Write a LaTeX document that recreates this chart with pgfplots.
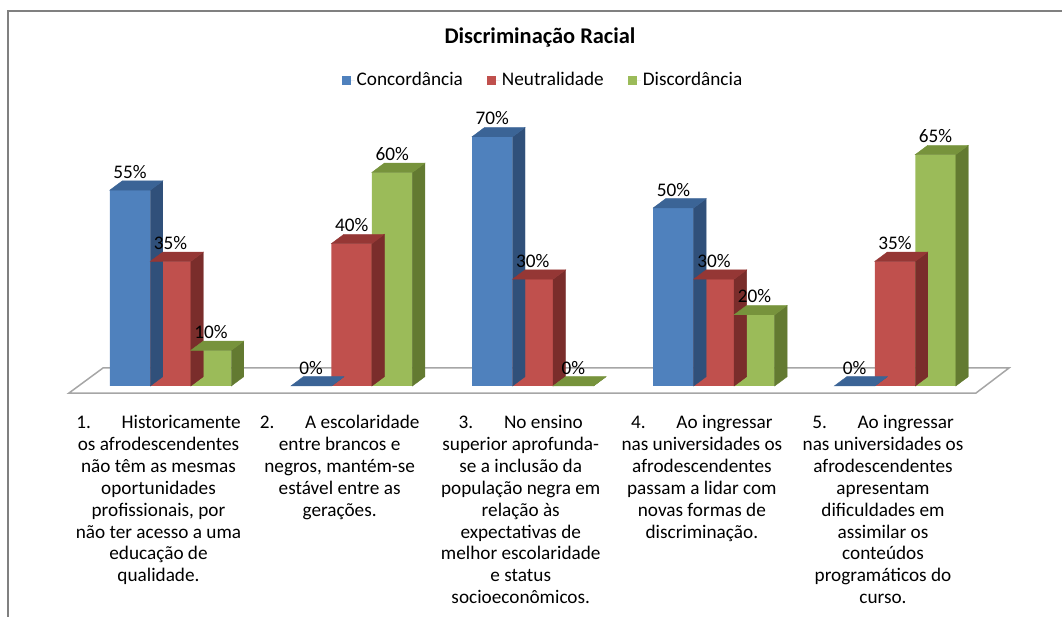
\documentclass[border=0pt]{standalone}
\usepackage{pgfplots}
\pgfplotsset{compat=1.18}
\usepackage{pgfplotstable}
\usepackage{fontspec}
\setmainfont{Carlito}
\definecolor{cblue}{HTML}{4F81BD}
\definecolor{cbluetop}{HTML}{3B6496}
\definecolor{cblueside}{HTML}{30507A}
\definecolor{cred}{HTML}{C0504D}
\definecolor{credtop}{HTML}{953735}
\definecolor{credside}{HTML}{7A2D2B}
\definecolor{cgreen}{HTML}{9BBB59}
\definecolor{cgreentop}{HTML}{77933C}
\definecolor{cgreenside}{HTML}{637A31}
\definecolor{floorgray}{HTML}{A6A6A6}
\definecolor{framegray}{HTML}{808080}
\newcommand\lab{\fontsize{19.3}{22}\selectfont}

\pgfplotstableread{
x c n d
0 55 35 10
1 0 40 60
2 70 30 0
3 50 30 20
4 0 35 65
}\datatable

\pgfdeclareplotmark{nothing}{}

\pgfplotsset{
  front/.style n args={2}{%
    ybar, bar width=40.5bp, bar shift=#1, fill=#2, draw=none,
    nodes near coords={\pgfmathprintnumber[assume math mode=true]{\pgfplotspointmeta}\%},
    every node near coord/.append style={font=\lab, text=black, anchor=south, inner sep=1bp, yshift=10.5bp, xshift=#1},
    legend image code/.code={\fill[#2] (0bp,-4.5bp) rectangle (9bp,4.5bp); \path (0bp,0bp) -- (13bp,0bp);},
  },
  face/.style n args={3}{%
    forget plot, scatter, only marks, mark=nothing,
    visualization depends on={rawy \as \barval},
    scatter/@pre marker code/.code={%
      \begingroup
      \pgfkeys{/pgf/fpu=true,/pgf/fpu/output format=fixed}%
      \pgfmathparse{\barval*3.56}%
      \xdef\barh{\pgfmathresult}%
      \endgroup
      \fill[#3] (#1+20.25bp,0bp) -- (#1+32.75bp,9.3bp) -- (#1+32.75bp,9.3bp-\barh bp) -- (#1+20.25bp,-\barh bp) -- cycle;
      \fill[#2] (#1-20.25bp,0bp) -- (#1+20.25bp,0bp) -- (#1+32.75bp,9.3bp) -- (#1-7.75bp,9.3bp) -- cycle;
    },
    scatter/@post marker code/.code={},
  },
}

\begin{document}
\begin{tikzpicture}
\useasboundingbox (0,0) rectangle (1062bp,617bp);
\draw[framegray, line width=2bp] (8bp,0bp) -- (8bp,606bp) -- (1062bp,606bp);
\node[font=\fontsize{22.5}{26}\selectfont\bfseries] at (540bp,579bp) {Discriminação Racial};
\begin{axis}[
  at={(69bp,231bp)}, anchor=south west,
  scale only axis, width=907bp, height=284.8bp,
  xmin=-0.5604, xmax=4.4472, ymin=0, ymax=80,
  clip=false,
  axis line style={draw=none},
  major tick length=0pt,
  ytick=\empty,
  xtick={0,1,2,3,4},
  xticklabels={
    {1.\hspace{1.6em}Historicamente\\os afrodescendentes\\não têm as mesmas\\oportunidades\\profissionais, por\\não ter acesso a uma\\educação de\\qualidade.},
    {2.\hspace{1.6em}A escolaridade\\entre brancos e\\negros, mantém-se\\estável entre as\\gerações.},
    {3.\hspace{1.6em}No ensino\\superior aprofunda-\\se a inclusão da\\população negra em\\relação às\\expectativas de\\melhor escolaridade\\e status\\socioeconômicos.},
    {4.\hspace{1.6em}Ao ingressar\\nas universidades os\\afrodescendentes\\passam a lidar com\\novas formas de\\discriminação.},
    {5.\hspace{1.6em}Ao ingressar\\nas universidades os\\afrodescendentes\\apresentam\\dificuldades em\\assimilar os\\conteúdos\\programáticos do\\curso.}
  },
  xticklabel style={font=\lab, align=center, anchor=north, inner sep=0pt, xshift=-12bp, yshift=-29bp},
  legend style={at={(0.5226,1.0744)}, anchor=center, draw=none, fill=none, font=\lab,
    legend columns=3, /tikz/every even column/.append style={column sep=22bp}},
  legend cell align=left,
]
\draw[floorgray, line width=1.5bp] (axis cs:-0.5604,-1.97) -- (axis cs:4.4472,-1.97) -- (axis cs:4.6294,5.06) -- (axis cs:-0.3727,5.06) -- cycle;
\addplot[front={-40.5bp}{cblue}] table[x=x,y=c]{\datatable};
\addplot[face={-40.5bp}{cbluetop}{cblueside}] table[x=x,y=c]{\datatable};
\addplot[front={0bp}{cred}] table[x=x,y=n]{\datatable};
\addplot[face={0bp}{credtop}{credside}] table[x=x,y=n]{\datatable};
\addplot[front={40.5bp}{cgreen}] table[x=x,y=d]{\datatable};
\addplot[face={40.5bp}{cgreentop}{cgreenside}] table[x=x,y=d]{\datatable};
\legend{Concordância, Neutralidade, Discordância}
\end{axis}
\end{tikzpicture}
\end{document}
